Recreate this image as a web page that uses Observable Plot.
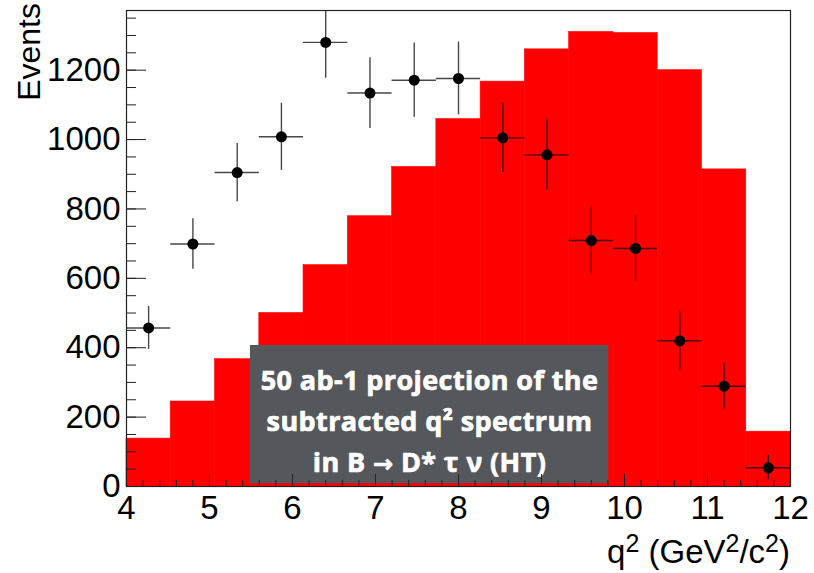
<!DOCTYPE html>
<html><head><meta charset="utf-8">
<script src="https://cdn.jsdelivr.net/npm/d3@7"></script>
<script src="https://cdn.jsdelivr.net/npm/@observablehq/plot@0.6"></script>
<style>
html,body{margin:0;padding:0;background:#fff;}
</style></head><body><div id="chart"></div>
<script>
// Histogram bins (q^2 in GeV^2/c^2)
const binLo = [4.000, 4.533, 5.067, 5.600, 6.133, 6.667, 7.200, 7.733, 8.267, 8.800, 9.333, 9.867, 10.400, 10.933, 11.467];
const binHi = [4.533, 5.067, 5.600, 6.133, 6.667, 7.200, 7.733, 8.267, 8.800, 9.333, 9.867, 10.400, 10.933, 11.467, 12.000];
// Red histogram (expected spectrum)
const histValues = [138, 245, 367, 500, 638, 779, 921, 1059, 1167, 1260, 1310, 1307, 1200, 914, 158];
// Black points (subtracted spectrum) and their errors
const pointValues = [457, 699, 905, 1008, 1280, 1134, 1171, 1176, 1005, 956, 709, 686, 420, 289, 54];
const pointErrors = [62, 73, 84, 97, 103, 102, 107, 105, 100, 103, 98, 95, 86, 66, 35];
// Axis ticks
const xTicks = [4, 5, 6, 7, 8, 9, 10, 11, 12];
const yTicks = [0, 200, 400, 600, 800, 1000, 1200];
const xMinor = d3.range(4, 12.001, 0.2);
const yMinor = d3.range(0, 1372, 50);
// Annotation text
const noteLines = ["50 ab-1 projection of the", "subtracted q² spectrum", "in B → D* τ ν (HT)"];

const rows = histValues.map((h, i) => ({
  lo: binLo[i], hi: binHi[i], h,
  c: (binLo[i] + binHi[i]) / 2,
  v: pointValues[i], e: pointErrors[i]
}));

const note = [{x1: 5.494, x2: 9.811, y1: 7.8, y2: 406.5, tx: 7.651, ty: 197}];

const font = "'Liberation Sans', Arial, Helvetica, sans-serif";
const errStyle = {stroke: "#000", strokeOpacity: 0.72, strokeWidth: 1.4};

const plot = Plot.plot({
  width: 814, height: 573,
  marginLeft: 126, marginRight: 24, marginTop: 10, marginBottom: 87,
  x: {domain: [4, 12]},
  y: {domain: [0, 1372]},
  style: {fontFamily: font, background: "#fff", overflow: "visible"},
  marks: [
    Plot.rectY(rows, {x1: "lo", x2: "hi", y: "h", fill: "#ff0000", stroke: "#ff0000", strokeWidth: 0.6, inset: 0}),
    Plot.rect(note, {x1: "x1", x2: "x2", y1: "y1", y2: "y2", fill: "#54575c", inset: 0}),
    Plot.text(note, {x: "tx", y: "ty", text: () => noteLines.join("\n"), fill: "#fff",
      stroke: "#fff", strokeWidth: 0.7,
      fontFamily: "'Open Sans', 'Noto Sans', sans-serif", fontWeight: "bold", fontSize: 27,
      lineHeight: 1.52, lineAnchor: "middle"}),
    Plot.ruleY(rows, {y: "v", x1: "lo", x2: "hi", ...errStyle, clip: true}),
    Plot.ruleX(rows, {x: "c", y1: d => d.v - d.e, y2: d => d.v + d.e, ...errStyle, clip: true}),
    Plot.dot(rows, {x: "c", y: "v", r: 5.5, fill: "#000", stroke: null}),
    Plot.frame({stroke: "#222", strokeWidth: 1.2}),
    Plot.axisX(xMinor, {tickSize: -6, tickFormat: () => "", label: null, stroke: "#222"}),
    Plot.axisX(xTicks, {tickSize: -12, tickFormat: () => "", label: null, stroke: "#222"}),
    Plot.axisX(xTicks, {tickSize: 0, tickPadding: 9, fontSize: 33, label: null, fill: "#000", tickFormat: d => String(d)}),
    Plot.axisY(yMinor, {tickSize: -10, tickFormat: () => "", label: null, stroke: "#222"}),
    Plot.axisY(yTicks, {tickSize: -20, tickFormat: () => "", label: null, stroke: "#222"}),
    Plot.axisY(yTicks, {tickSize: 0, tickPadding: 6, fontSize: 33, label: null, fill: "#000", tickFormat: d => String(d)})
  ]
});

const svg = d3.select(plot);
// Slight letter spacing on the annotation, bigger arrow glyph
svg.selectAll("text").filter(function () { return this.textContent.includes("projection"); })
  .attr("letter-spacing", "0.4px");
svg.selectAll("tspan").filter(function () { return this.textContent.includes("→"); })
  .each(function () {
    const [a, b] = this.textContent.split("→");
    const sel = d3.select(this).text(null);
    sel.append("tspan").text(a);
    sel.append("tspan").attr("font-family", "'DejaVu Sans', sans-serif").attr("font-size", 24).text("→");
    sel.append("tspan").text(b);
  });
// Y axis title
svg.append("text")
  .attr("transform", "translate(40,3) rotate(-90)")
  .attr("text-anchor", "end")
  .attr("font-family", font)
  .attr("font-size", 32)
  .attr("fill", "#000")
  .text("Events");
// X axis title with superscripts
const xt = svg.append("text")
  .attr("x", 790).attr("y", 563)
  .attr("text-anchor", "end")
  .attr("font-family", font)
  .attr("font-size", 33)
  .attr("fill", "#000");
const parts = [["q", false], ["2", true], [" (GeV", false], ["2", true], ["/c", false], ["2", true], [")", false]];
parts.forEach(([t, sup]) => {
  const ts = xt.append("tspan").text(t);
  if (sup) ts.attr("font-size", 25).attr("baseline-shift", "44%");
});

document.getElementById("chart").appendChild(plot);
</script>
</body></html>
